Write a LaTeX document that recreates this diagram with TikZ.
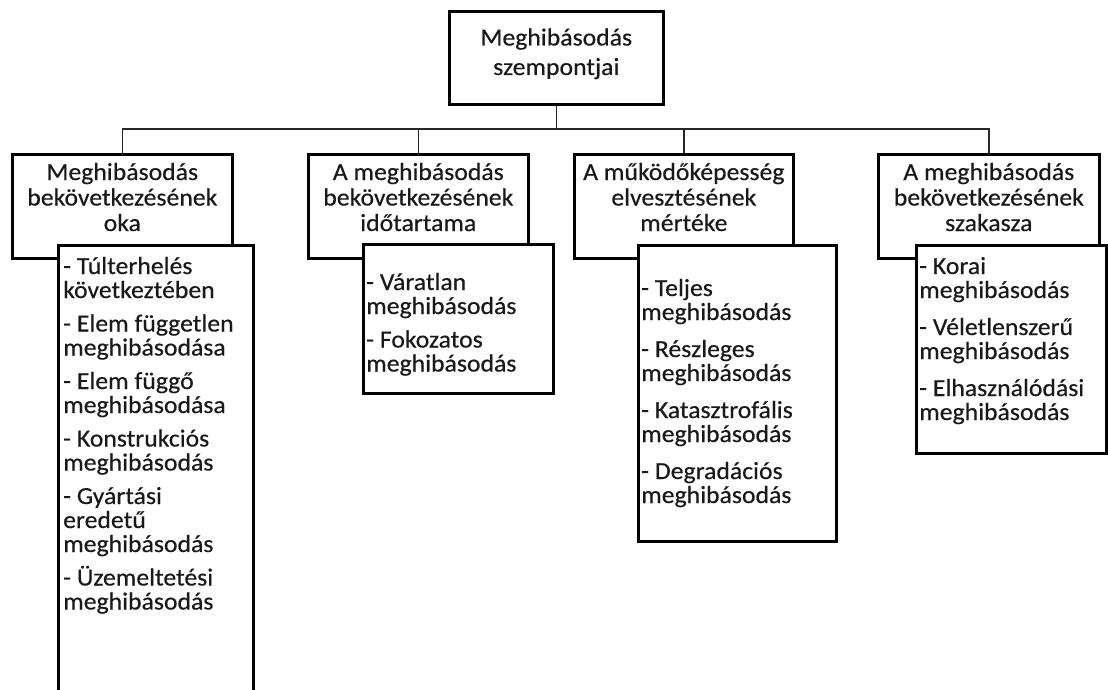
\documentclass[tikz,border=0pt]{standalone}
\usepackage{fontspec}
\setmainfont{Carlito}[FakeStretch=1.05,FakeBold=0.4]
\begin{document}
\begin{tikzpicture}[x=1pt,y=-1pt,
  box/.style={draw=black, line width=2.6pt, fill=white, anchor=north west, inner sep=0pt},
  conn/.style={draw=black!85, line width=1.4pt},
  ltxt/.style={inner sep=0pt, anchor=base west, font=\fontsize{24.5}{25}\selectfont, text=black!90},
  htxt/.style={inner sep=0pt, anchor=base, font=\fontsize{24.5}{25}\selectfont, text=black!90}]
\useasboundingbox[fill=white] (0,0) rectangle (1108,690);
% top box
\node[box, minimum width=214pt, minimum height=93pt] (top) at (448,10) {};
\node[htxt] (t1) at (top.north |- 0,45.5) {Meghibásodás};
\node[htxt] (t2) at (top.north |- 0,75) {szempontjai};
% header boxes
\node[box, minimum width=220pt, minimum height=104pt] (h1) at (11,153) {};
\node[box, minimum width=220pt, minimum height=104pt] (h2) at (307,153) {};
\node[box, minimum width=219pt, minimum height=104pt] (h3) at (573,153) {};
\node[box, minimum width=221pt, minimum height=104pt] (h4) at (877,153) {};
% connectors
\coordinate (bus) at (top.south |- 0,129);
\draw[conn] (top.south) -- (bus);
\draw[conn] (h1.north) |- (bus) -| (h4.north);
\draw[conn] (h2.north) -- (h2.north |- bus);
\draw[conn] (h3.north) -- (h3.north |- bus);
% header texts
\foreach \y/\t [count=\i] in {180/{Meghibásodás},205.5/{bekövetkezésének},231/{oka}}
  \node[htxt] (h1t\i) at (h1.north |- 0,\y) {\t};
\foreach \y/\t [count=\i] in {180/{A meghibásodás},205.5/{bekövetkezésének},231/{időtartama}}
  \node[htxt] (h2t\i) at (h2.north |- 0,\y) {\t};
\foreach \y/\t [count=\i] in {180/{A működőképesség},205.5/{elvesztésének},231/{mértéke}}
  \node[htxt] (h3t\i) at (h3.north |- 0,\y) {\t};
\foreach \y/\t [count=\i] in {180/{A meghibásodás},205.5/{bekövetkezésének},231/{szakasza}}
  \node[htxt] (h4t\i) at (h4.north |- 0,\y) {\t};
% sub boxes
\node[box, minimum width=195pt, minimum height=480pt] (s1) at (57,244) {};
\node[box, minimum width=190pt, minimum height=149pt] (s2) at (362,243) {};
\node[box, minimum width=198pt, minimum height=296pt] (s3) at (637,244) {};
\node[box, minimum width=190pt, minimum height=208pt] (s4) at (915,244) {};
% list texts
\foreach \y/\t [count=\i] in {
  274/{- Túlterhelés}, 298/{következtében},
  331.5/{- Elem független}, 355.5/{meghibásodása},
  389/{- Elem függő}, 413/{meghibásodása},
  446.5/{- Konstrukciós}, 470.5/{meghibásodás},
  504/{- Gyártási}, 528/{eredetű}, 552/{meghibásodás},
  585.5/{- Üzemeltetési}, 609.5/{meghibásodás}}
  \node[ltxt] (a\i) at (63,\y) {\t};
\foreach \y/\t [count=\i] in {
  290/{- Váratlan}, 314/{meghibásodás},
  347.5/{- Fokozatos}, 371.5/{meghibásodás}}
  \node[ltxt] (b\i) at (366,\y) {\t};
\foreach \y/\t [count=\i] in {
  296/{- Teljes}, 320/{meghibásodás},
  357/{- Részleges}, 381/{meghibásodás},
  418/{- Katasztrofális}, 442/{meghibásodás},
  479/{- Degradációs}, 503/{meghibásodás}}
  \node[ltxt] (c\i) at (641,\y) {\t};
\foreach \y/\t [count=\i] in {
  274/{- Korai}, 298/{meghibásodás},
  335/{- Véletlenszerű}, 359/{meghibásodás},
  396/{- Elhasználódási}, 420/{meghibásodás}}
  \node[ltxt] (d\i) at (919,\y) {\t};
\end{tikzpicture}
\end{document}
